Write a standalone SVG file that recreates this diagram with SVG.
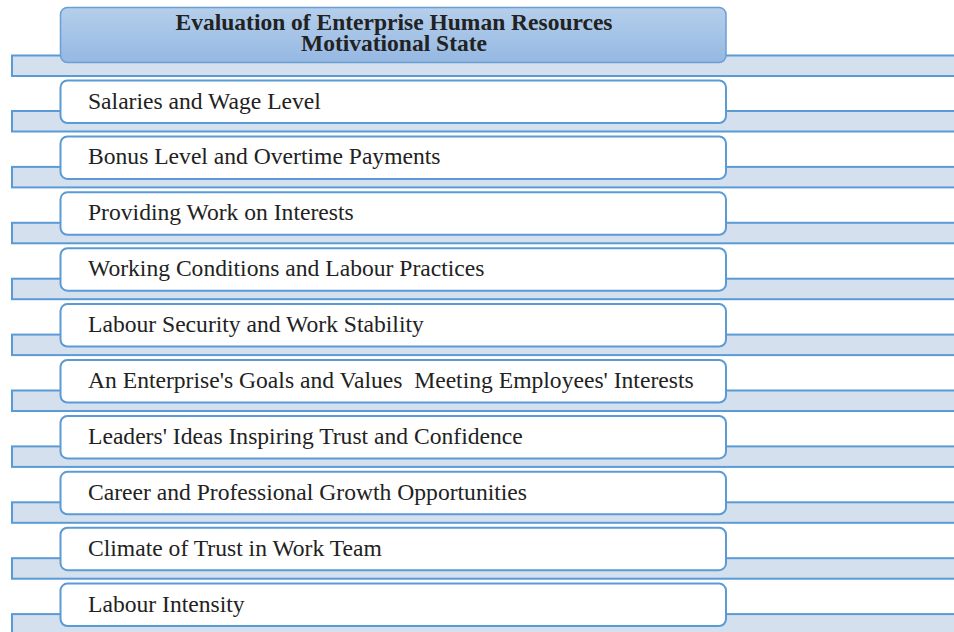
<svg xmlns="http://www.w3.org/2000/svg" width="954" height="632" viewBox="0 0 954 632">
<defs>
<linearGradient id="hdr" x1="0" y1="0" x2="0" y2="1">
<stop offset="0" stop-color="#b5cfec"/>
<stop offset="1" stop-color="#95b8e2"/>
</linearGradient>
</defs>
<style>
.band{fill:#d5e0ef;stroke:#5b9bd5;stroke-width:2}
.box{fill:#ffffff;stroke:#5b9bd5;stroke-width:2}
.hbox{fill:url(#hdr);stroke:#6a9fd6;stroke-width:1.5}
.t{font-family:"Liberation Serif","Times New Roman",serif;font-size:23.6px;fill:#222222}
.h{font-family:"Liberation Serif","Times New Roman",serif;font-size:23.5px;font-weight:bold;fill:#222222;text-anchor:middle}
</style>
<rect width="954" height="632" fill="#ffffff"/>
<g id="connectors">
<rect class="band" x="12" y="55.5" width="950" height="20.5"/>
<rect class="band" x="12" y="111" width="950" height="20.5"/>
<rect class="band" x="12" y="166.9" width="950" height="20.5"/>
<rect class="band" x="12" y="222.8" width="950" height="20.5"/>
<rect class="band" x="12" y="278.7" width="950" height="20.5"/>
<rect class="band" x="12" y="334.6" width="950" height="20.5"/>
<rect class="band" x="12" y="390.5" width="950" height="20.5"/>
<rect class="band" x="12" y="446.4" width="950" height="20.5"/>
<rect class="band" x="12" y="502.3" width="950" height="20.5"/>
<rect class="band" x="12" y="558.2" width="950" height="20.5"/>
<rect class="band" x="12" y="614.1" width="950" height="30"/>
</g>
<g id="header">
<rect class="hbox" x="60.5" y="7.5" width="665.5" height="55" rx="7"/>
<text class="h" x="394" y="30">Evaluation of Enterprise Human Resources</text>
<text class="h" x="394" y="51">Motivational State</text>
</g>
<g id="n1"><rect class="box" x="60.5" y="80.5" width="665.5" height="42.5" rx="7"/><text class="t" x="88" y="108.5">Salaries and Wage Level</text></g>
<g id="n2"><rect class="box" x="60.5" y="136.4" width="665.5" height="42.5" rx="7"/><text class="t" x="88" y="164.4">Bonus Level and Overtime Payments</text></g>
<g id="n3"><rect class="box" x="60.5" y="192.3" width="665.5" height="42.5" rx="7"/><text class="t" x="88" y="220.3">Providing Work on Interests</text></g>
<g id="n4"><rect class="box" x="60.5" y="248.2" width="665.5" height="42.5" rx="7"/><text class="t" x="88" y="276.2">Working Conditions and Labour Practices</text></g>
<g id="n5"><rect class="box" x="60.5" y="304.1" width="665.5" height="42.5" rx="7"/><text class="t" x="88" y="332.1">Labour Security and Work Stability</text></g>
<g id="n6"><rect class="box" x="60.5" y="360" width="665.5" height="42.5" rx="7"/><text class="t" x="88" y="388" xml:space="preserve">An Enterprise's Goals and Values  Meeting Employees' Interests</text></g>
<g id="n7"><rect class="box" x="60.5" y="415.9" width="665.5" height="42.5" rx="7"/><text class="t" x="88" y="443.9">Leaders' Ideas Inspiring Trust and Confidence</text></g>
<g id="n8"><rect class="box" x="60.5" y="471.8" width="665.5" height="42.5" rx="7"/><text class="t" x="88" y="499.8">Career and Professional Growth Opportunities</text></g>
<g id="n9"><rect class="box" x="60.5" y="527.7" width="665.5" height="42.5" rx="7"/><text class="t" x="88" y="555.7">Climate of Trust in Work Team</text></g>
<g id="n10"><rect class="box" x="60.5" y="583.6" width="665.5" height="42.5" rx="7"/><text class="t" x="88" y="611.6">Labour Intensity</text></g>
</svg>
